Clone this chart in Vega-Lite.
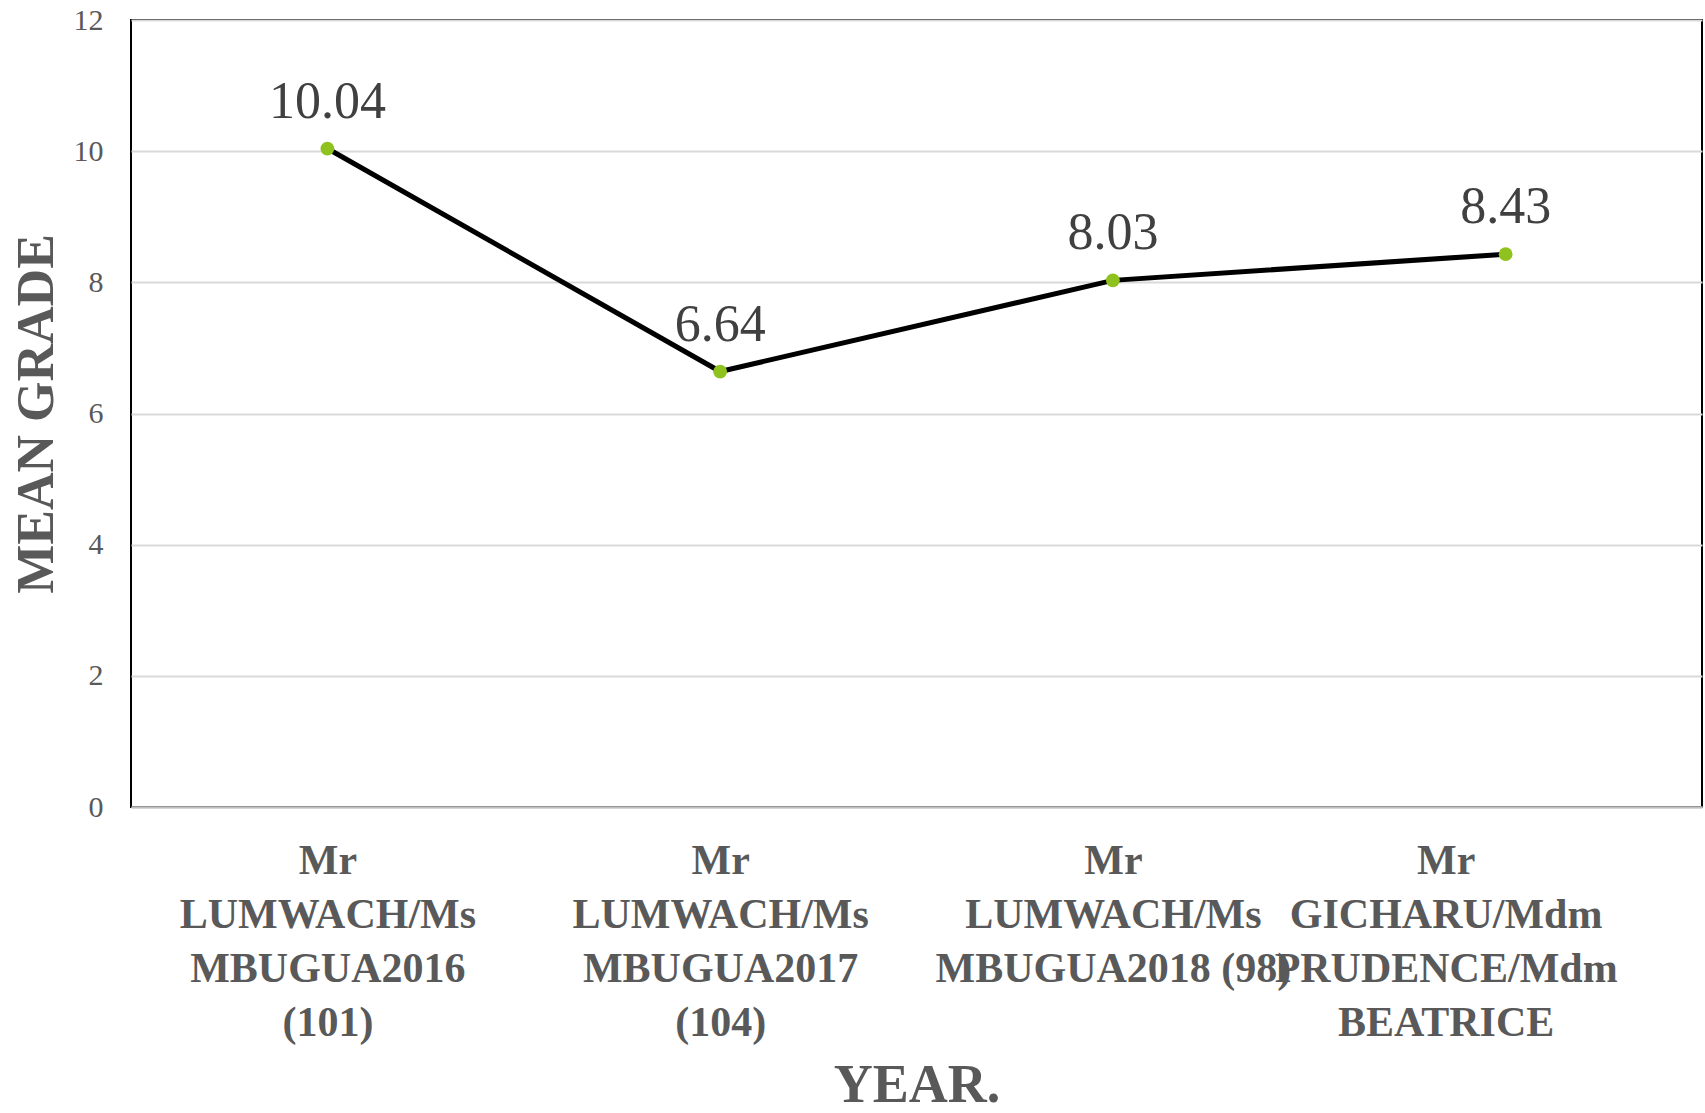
{
  "$schema": "https://vega.github.io/schema/vega-lite/v6.json",
  "autosize": {"type": "none"},
  "width": 1571,
  "height": 787,
  "padding": {"left": 131, "top": 20, "right": 3, "bottom": 306},
  "background": "white",
  "config": {
    "font": "Liberation Serif",
    "view": {"stroke": "#000000", "strokeWidth": 2}
  },
  "data": {
    "values": [
      {"teacher": "Mr LUMWACH/Ms MBUGUA2016 (101)", "grade": 10.04},
      {"teacher": "Mr LUMWACH/Ms MBUGUA2017 (104)", "grade": 6.64},
      {"teacher": "Mr LUMWACH/Ms MBUGUA2018 (98)", "grade": 8.03},
      {"teacher": "Mr GICHARU/Mdm PRUDENCE/Mdm BEATRICE", "grade": 8.43}
    ]
  },
  "encoding": {
    "x": {
      "field": "teacher",
      "type": "nominal",
      "sort": null,
      "scale": {"paddingInner": 0, "paddingOuter": 0},
      "axis": {
        "title": "YEAR.",
        "titleFont": "Liberation Serif",
        "titleFontSize": 54,
        "titleFontWeight": "bold",
        "titleColor": "#595959",
        "titleBaseline": "alphabetic",
        "titleY": 294,
        "labelAngle": 0,
        "labelFont": "Liberation Serif",
        "labelFontSize": 42,
        "labelFontWeight": "bold",
        "labelColor": "#595959",
        "labelLineHeight": 54,
        "labelBaseline": "top",
        "labelPadding": 33,
        "labelLimit": 0,
        "labelOverlap": false,
        "labelOffset": {"condition": {"test": "datum.value == 'Mr GICHARU/Mdm PRUDENCE/Mdm BEATRICE'", "value": -60}, "value": 0},
        "labelExpr": "split(replace(datum.label, '2018 (98)', '2018\u00a0(98)'), ' ')",
        "ticks": false,
        "tickSize": 0,
        "domainColor": "#bfbfbf",
        "domainWidth": 2,
        "grid": false
      }
    },
    "y": {
      "field": "grade",
      "type": "quantitative",
      "scale": {"domain": [0, 12], "nice": false, "zero": true},
      "axis": {
        "title": "MEAN GRADE",
        "titleFont": "Liberation Serif",
        "titleFontSize": 52,
        "titleFontWeight": "bold",
        "titleColor": "#595959",
        "titleAngle": -90,
        "titleAlign": "center",
        "titleBaseline": "alphabetic",
        "titleX": -79,
        "titleY": 393.5,
        "values": [0, 2, 4, 6, 8, 10, 12],
        "labelFont": "Liberation Serif",
        "labelFontSize": 30,
        "labelColor": "#595959",
        "labelPadding": 28,
        "ticks": false,
        "tickSize": 0,
        "domain": false,
        "grid": true,
        "gridColor": "#d9d9d9",
        "gridWidth": 2
      }
    }
  },
  "layer": [
    {
      "mark": {"type": "line", "color": "#000000", "strokeWidth": 5}
    },
    {
      "mark": {"type": "point", "filled": true, "opacity": 1, "color": "#8fc21f", "size": 190}
    },
    {
      "mark": {"type": "text", "font": "Liberation Serif", "fontSize": 52, "color": "#404040", "baseline": "alphabetic", "dy": -31},
      "encoding": {"text": {"field": "grade", "type": "quantitative", "format": ".2f"}}
    }
  ]
}
